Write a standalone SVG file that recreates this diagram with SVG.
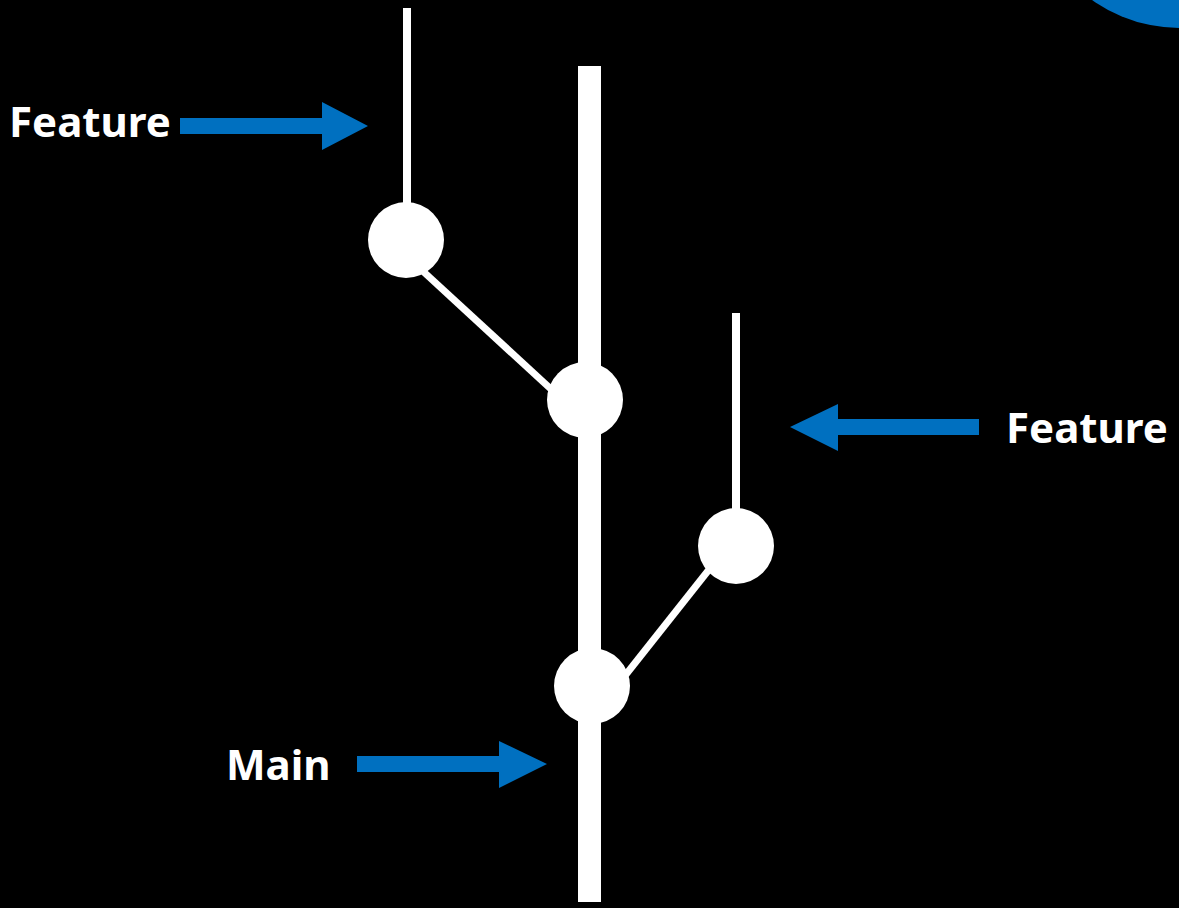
<svg xmlns="http://www.w3.org/2000/svg" width="1179" height="908" viewBox="0 0 1179 908">
  <style>
    .branch { stroke: #ffffff; stroke-width: 8; fill: none; }
    .merge { stroke: #ffffff; stroke-width: 7; fill: none; }
    .trunk { fill: #ffffff; }
    .commit { fill: #ffffff; }
    .pointer { fill: #0070c0; }
    .label { font-family: "Noto Sans", "Liberation Sans", sans-serif; font-weight: 700; font-size: 42px; fill: #ffffff; }
  </style>
  <rect width="1179" height="908" fill="#000000"/>
  <circle cx="1180" cy="-124" r="152" fill="#0070c0"/>

  <g id="connectors">
    <rect class="trunk" x="578" y="66" width="23" height="836"/>
    <line class="branch" x1="407" y1="8" x2="407" y2="240"/>
    <line class="merge" x1="414" y1="263" x2="565" y2="402"/>
    <line class="branch" x1="736" y1="313" x2="736" y2="546"/>
    <line class="merge" x1="715" y1="562" x2="620" y2="682"/>
  </g>

  <g id="commit-feature-a"><circle class="commit" cx="406" cy="240" r="38"/></g>
  <g id="commit-main-a"><circle class="commit" cx="585" cy="400" r="38"/></g>
  <g id="commit-feature-b"><circle class="commit" cx="736" cy="546" r="38"/></g>
  <g id="commit-main-b"><circle class="commit" cx="592" cy="686" r="38"/></g>

  <g id="label-feature-a">
    <text class="label" x="9" y="137">Feature</text>
    <polygon class="pointer" points="180,118 322,118 322,102 368,126 322,150 322,134 180,134"/>
  </g>
  <g id="label-feature-b">
    <text class="label" x="1006" y="443">Feature</text>
    <polygon class="pointer" points="979,419 838,419 838,404 790,427 838,451 838,435 979,435"/>
  </g>
  <g id="label-main">
    <text class="label" x="226" y="780">Main</text>
    <polygon class="pointer" points="357,756 499,756 499,741 547,764 499,788 499,772 357,772"/>
  </g>
</svg>
